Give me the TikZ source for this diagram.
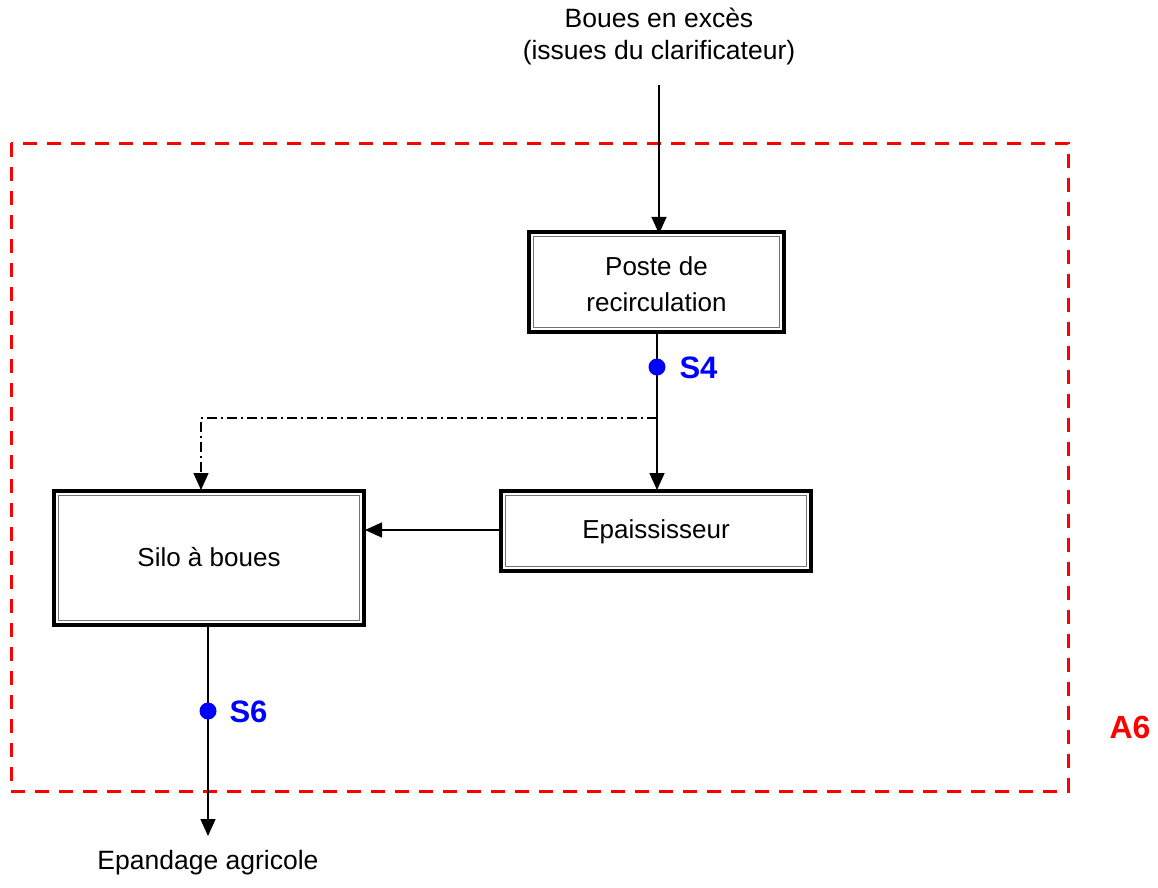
\documentclass[tikz,border=0pt]{standalone}
\usepackage{fontspec}
\setmainfont{Liberation Sans}
\usetikzlibrary{arrows.meta}
\begin{document}
\begin{tikzpicture}[x=1pt,y=-1pt,
  flow/.style={line width=1.6pt,-{Triangle[length=17pt,width=15pt]}},
  dblbox/.style={draw=none,minimum width=#1,align=center,font=\fontsize{26}{36}\selectfont,inner sep=0pt},
  outerb/.style={line width=3.2pt,draw=black},
  innerb/.style={line width=0.9pt,draw=black!55},
  sdot/.style={circle,fill=blue,inner sep=0pt,minimum size=17pt},
  slabel/.style={text=blue,font=\fontsize{31}{34}\selectfont\bfseries,anchor=west},
  plain/.style={font=\fontsize{26.5}{32}\selectfont,align=center}]
\useasboundingbox (0,0) rectangle (1158,887);
% zone A6
\draw[red,line width=3pt,dash pattern=on 14pt off 10pt] (11,143) rectangle (1068,791);
\node[text=red,font=\fontsize{32}{34}\selectfont\bfseries] (a6) at (1130,727) {A6};
% source text
\node[plain] (src) at (659,36) {Boues en excès\\(issues du clarificateur)};
% boxes
\draw[outerb] (529,232) rectangle (784,332);
\draw[innerb] (533.5,236.5) rectangle (779.5,327.5);
\node[dblbox=255pt,minimum height=100pt] (poste) at (656.5,284) {Poste de\\recirculation};
\draw[outerb] (501,491) rectangle (811,571);
\draw[innerb] (505.5,495.5) rectangle (806.5,566.5);
\node[dblbox=310pt,minimum height=80pt] (epai) at (656,532) {Epaississeur};
\draw[outerb] (54,491) rectangle (364,625);
\draw[innerb] (58.5,495.5) rectangle (359.5,620.5);
\node[dblbox=310pt,minimum height=134pt] (silo) at (209,557) {Silo à boues};
% connectors
\coordinate (in0) at (659,85);
\draw[flow] (in0) -- (poste.north -| in0);
\coordinate (pb) at (657,332);
\coordinate (et) at (657,490);
\draw[flow] (pb) -- (et);
\node[sdot] (s4) at (657,367) {};
\node[slabel] (s4l) at (676,368) {S4};
\coordinate (split) at (657,418);
\coordinate (corner) at (201,418);
\coordinate (st) at (201,490);
\draw[line width=1.3pt,-{Triangle[length=17pt,width=15pt]},dash pattern=on 10pt off 4pt on 2pt off 4pt] (split) -- (corner) -- (st);
\coordinate (el) at (501,530);
\coordinate (sr) at (365,530);
\draw[flow] (el) -- (sr);
\coordinate (sb) at (208,625);
\coordinate (out) at (208,836);
\draw[flow] (sb) -- (out);
\node[sdot] (s6) at (208,711) {};
\node[slabel] (s6l) at (226,712) {S6};
\node[plain] (dst) at (208,863) {Epandage agricole};
\end{tikzpicture}
\end{document}
